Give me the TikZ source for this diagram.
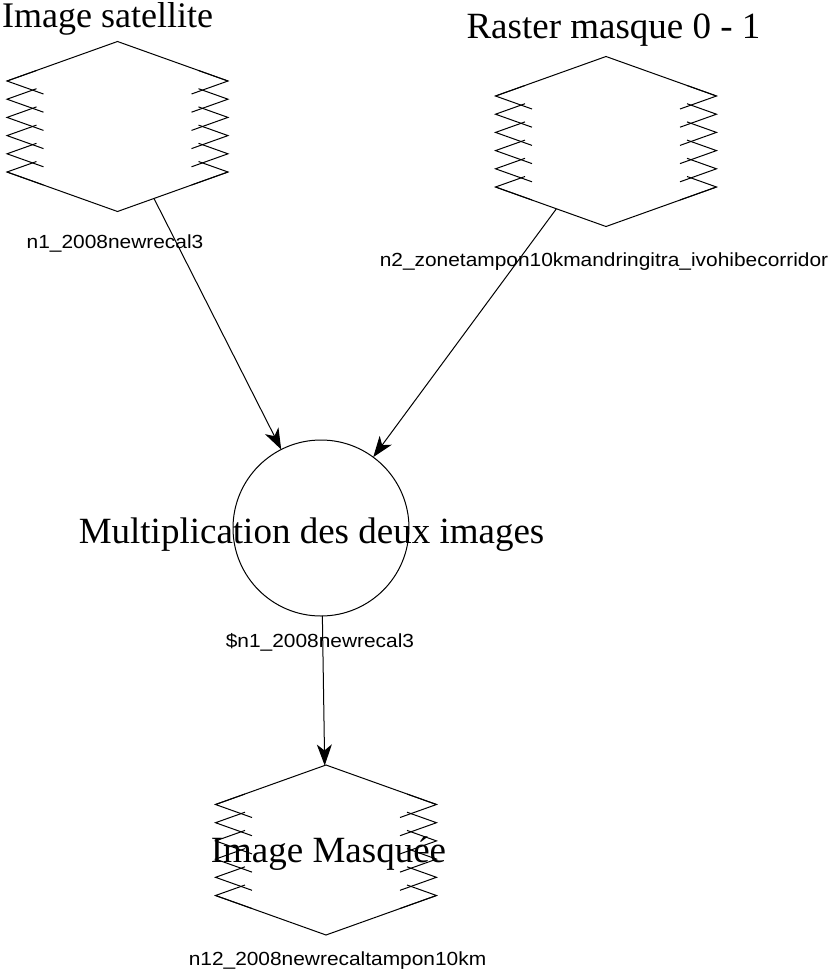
\documentclass[tikz,border=0pt]{standalone}
\usepackage{fontspec}
\setmainfont{Liberation Serif}
\newfontfamily\labelfont{Liberation Sans}
\usetikzlibrary{arrows.meta,shapes.geometric}

\tikzset{
  wire/.style={line width=1pt, draw=black},
  flow/.style={wire, -{Stealth[length=21pt,width=15pt,inset=6pt]}},
  % invisible outline used only to clip the connectors of a raster node
  hexzone/.style={diamond, minimum width=482pt, minimum height=170pt,
    inner sep=0pt, outer sep=0pt},
  opnode/.style={circle, draw, line width=1pt, minimum size=176pt,
    inner sep=0pt, outer sep=0pt},
  title/.style={font=\fontsize{37}{40}\selectfont, anchor=base, inner sep=0pt},
  tag/.style={font=\labelfont\fontsize{19}{22}\selectfont, anchor=base, inner sep=0pt},
  % raster data symbol: hexagon with saw-tooth sides
  pics/rasterbox/.style={code={
    \draw[wire] (-110.5,-45.5) -- (0,-85) -- (110.5,-45.5);
    \draw[wire] (-110.5,45.5) -- (0,85) -- (110.5,45.5);
    \foreach \v in {-45.5,-27.3,-9.1,9.1,27.3,45.5}{
      \draw[wire] (-81,\v-10.5) -- (-110.5,\v) -- (-74,\v+13);
      \draw[wire] (81,\v-10.5) -- (110.5,\v) -- (74,\v+13);
    }
  }}
}

\begin{document}
\begin{tikzpicture}[x=1pt,y=-1pt]
  \useasboundingbox (0,0) rectangle (832,975);

  % raster inputs, operation and result
  \path (117.5,126.5) node[hexzone] (s1) {} pic {rasterbox};
  \path (606,141.5) node[hexzone] (s2) {} pic {rasterbox};
  \node[opnode] (c) at (321,528) {};
  \path (326,850) node[hexzone] (s3) {} pic {rasterbox};

  % titles
  \node[title, anchor=base west, font=\fontsize{36}{40}\selectfont] (t1) at (2,27) {Image satellite};
  \node[title] (t2) at (613.5,38) {Raster masque 0 - 1};
  \node[title] (t3) at (311.5,543) {Multiplication des deux images};
  \node[title] (t4) at (328.5,862) {Image Masquée};

  % variable names
  \node[tag] (l1) at (115,248) {\scalebox{1.1}[1]{n1\_2008newrecal3}};
  \node[tag] (l2) at (604,266) {\scalebox{1.1}[1]{n2\_zonetampon10kmandringitra\_ivohibecorridor}};
  \node[tag] (l3) at (320,647) {\scalebox{1.1}[1]{\$n1\_2008newrecal3}};
  \node[tag] (l4) at (337.5,965) {\scalebox{1.1}[1]{n12\_2008newrecaltampon10km}};

  % data flow
  \draw[flow] (s1) -- (c);
  \draw[flow] (s2) -- (c);
  \draw[flow] (c) -- (s3);
\end{tikzpicture}
\end{document}
